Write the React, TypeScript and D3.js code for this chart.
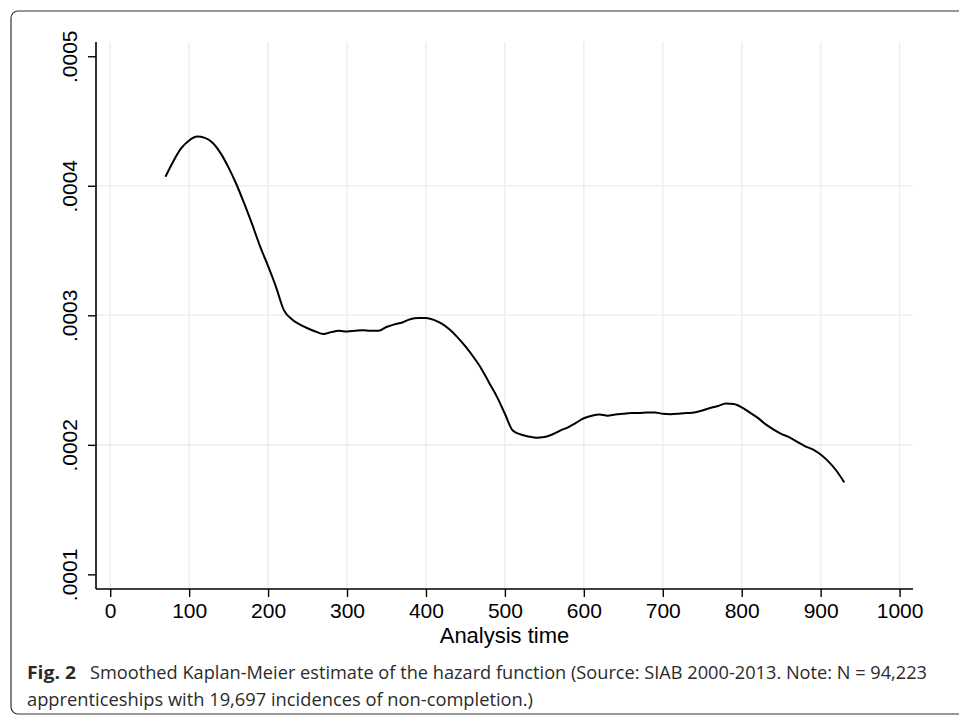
import { useEffect, useRef } from 'react';
import * as d3 from 'd3';

// analysis time (days) and smoothed hazard
const times = [
  70, 80, 90, 100, 110, 120, 130, 140, 150, 160, 170, 180, 190, 200, 210, 220, 230, 240, 250, 260,
  270, 280, 290, 300, 310, 320, 330, 340, 350, 360, 370, 380, 390, 400, 410, 420, 430, 440, 450, 460,
  470, 480, 490, 500, 510, 520, 530, 540, 550, 560, 570, 580, 590, 600, 610, 620, 630, 640, 650, 660,
  670, 680, 690, 700, 710, 720, 730, 740, 750, 760, 770, 780, 790, 800, 810, 820, 830, 840, 850, 860,
  870, 880, 890, 900, 910, 920, 930,
];
const hazard = [
  4.07, 4.19, 4.29, 4.35, 4.38, 4.37, 4.33, 4.25, 4.14, 4.01, 3.86, 3.70, 3.53, 3.38, 3.22, 3.04, 2.97, 2.93, 2.9, 2.875,
  2.855, 2.87, 2.88, 2.875, 2.88, 2.885, 2.88, 2.88, 2.91, 2.93, 2.945, 2.97, 2.98, 2.98, 2.965, 2.935, 2.89, 2.83, 2.76, 2.68,
  2.59, 2.48, 2.37, 2.24, 2.11, 2.08, 2.065, 2.055, 2.06, 2.08, 2.11, 2.135, 2.17, 2.205, 2.225, 2.235, 2.225, 2.235, 2.24, 2.245,
  2.245, 2.25, 2.25, 2.24, 2.237, 2.24, 2.245, 2.25, 2.265, 2.285, 2.3, 2.32, 2.315, 2.29, 2.25, 2.21, 2.16, 2.12, 2.085, 2.06,
  2.025, 1.99, 1.965, 1.925, 1.87, 1.8, 1.71,
].map(v => v * 1e-4);

const xTicks = [0, 100, 200, 300, 400, 500, 600, 700, 800, 900, 1000];
const yTicks = [0.0001, 0.0002, 0.0003, 0.0004, 0.0005];
const yGrid = [0.0002, 0.0003, 0.0004];

const xLabel = 'Analysis time';
const captionBold = 'Fig. 2';
const captionLine1 = 'Smoothed Kaplan-Meier estimate of the hazard function (Source: SIAB 2000-2013. Note: N = 94,223';
const captionLine2 = 'apprenticeships with 19,697 incidences of non-completion.)';

const W = 959;
const H = 715;

export default function App() {
  const svgRef = useRef<SVGSVGElement | null>(null);

  useEffect(() => {
    if (!svgRef.current) return;
    const svg = d3.select(svgRef.current);
    svg.selectAll('*').remove();

    const left = 96, right = 913, top = 42, bottom = 589;

    const x = d3.scaleLinear().domain([-18, 1017]).range([left, right]);
    const y = d3.scaleLinear().domain([0.0000887, 0.000511]).range([bottom, top]);

    // panel frame (only top/left edges fall inside the crop)
    svg.append('rect')
      .attr('x', 11).attr('y', 11)
      .attr('width', 1000).attr('height', 703)
      .attr('rx', 7)
      .attr('fill', 'none')
      .attr('stroke', '#333')
      .attr('stroke-width', 1.2);

    // Grid
    svg.append('g')
      .selectAll('line')
      .data(xTicks)
      .join('line')
      .attr('x1', d => x(d)).attr('x2', d => x(d))
      .attr('y1', top).attr('y2', bottom)
      .attr('stroke', '#efefef')
      .attr('stroke-width', 1.6);

    svg.append('g')
      .selectAll('line')
      .data(yGrid)
      .join('line')
      .attr('x1', left).attr('x2', right)
      .attr('y1', d => y(d)).attr('y2', d => y(d))
      .attr('stroke', '#efefef')
      .attr('stroke-width', 1.6);

    // Hazard line
    const line = d3.line<number>()
      .x((d, i) => x(times[i]))
      .y(d => y(d))
      .curve(d3.curveMonotoneX);

    svg.append('path')
      .datum(hazard)
      .attr('fill', 'none')
      .attr('stroke', '#000')
      .attr('stroke-width', 2)
      .attr('stroke-linejoin', 'round')
      .attr('d', line);

    // X axis
    const gx = svg.append('g')
      .attr('transform', `translate(0,${bottom})`)
      .call(d3.axisBottom(x).tickValues(xTicks).tickSize(8).tickFormat(d3.format('d')));
    gx.select('.domain').attr('d', `M${left},0H${right}`).attr('stroke', '#000').attr('stroke-width', 1.6);
    gx.selectAll('.tick line').attr('stroke', '#000').attr('stroke-width', 1.4);
    gx.selectAll('.tick text')
      .attr('y', 29.3).attr('dy', 0)
      .attr('fill', '#000')
      .attr('font-family', '"Liberation Sans", Arial, sans-serif')
      .attr('font-size', '21px');

    // Y axis
    const gy = svg.append('g')
      .attr('transform', `translate(${left},0)`)
      .call(d3.axisLeft(y).tickValues(yTicks).tickSize(8).tickFormat(d => d3.format('.4f')(d as number).replace(/^0/, '')));
    gy.select('.domain').attr('d', `M0,${top}V${bottom}`).attr('stroke', '#000').attr('stroke-width', 1.6);
    gy.selectAll('.tick line').attr('stroke', '#000').attr('stroke-width', 1.4);
    gy.selectAll('.tick text')
      .attr('transform', 'rotate(-90)')
      .attr('x', 0).attr('y', -19).attr('dy', 0)
      .attr('text-anchor', 'middle')
      .attr('fill', '#000')
      .attr('font-family', '"Liberation Sans", Arial, sans-serif')
      .attr('font-size', '21px');

    // Axis title
    svg.append('text')
      .attr('x', (left + right) / 2)
      .attr('y', 643)
      .attr('text-anchor', 'middle')
      .attr('fill', '#000')
      .attr('font-family', '"Liberation Sans", Arial, sans-serif')
      .attr('font-size', '22px')
      .text(xLabel);

    // Caption
    const cap = svg.append('g')
      .attr('font-family', '"Open Sans", "Noto Sans", sans-serif')
      .attr('font-size', '17.5px')
      .attr('fill', '#2b2b2b');
    cap.append('text')
      .attr('x', 27).attr('y', 679)
      .attr('font-weight', 'bold')
      .attr('textLength', 49).attr('lengthAdjust', 'spacingAndGlyphs')
      .text(captionBold);
    cap.append('text')
      .attr('x', 90).attr('y', 679)
      .attr('textLength', 837).attr('lengthAdjust', 'spacingAndGlyphs')
      .text(captionLine1);
    cap.append('text')
      .attr('x', 27).attr('y', 705.5)
      .attr('textLength', 506).attr('lengthAdjust', 'spacingAndGlyphs')
      .text(captionLine2);
  }, []);

  return (
    <svg
      ref={svgRef}
      width={W}
      height={H}
      style={{ position: 'absolute', left: 0, top: 0, background: '#fff' }}
    />
  );
}
